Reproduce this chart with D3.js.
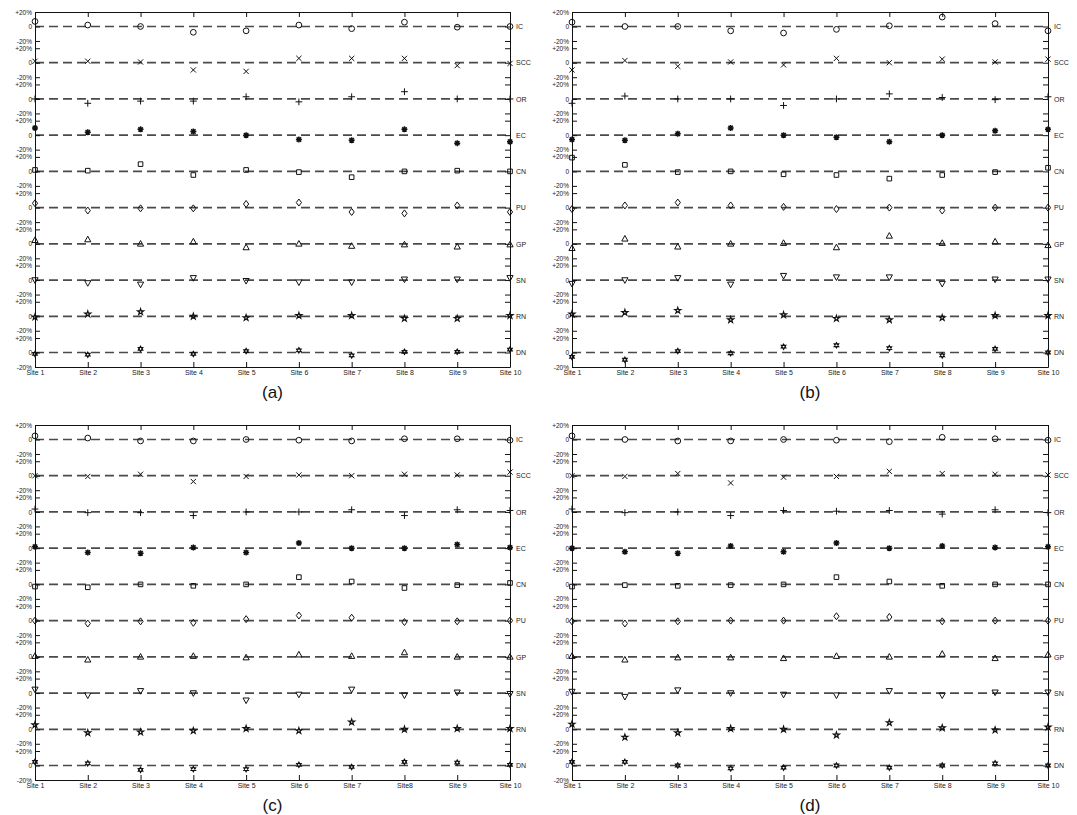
<!DOCTYPE html>
<html>
<head>
<meta charset="utf-8">
<script src="https://cdn.jsdelivr.net/npm/d3@7"></script>
<style>
  body { margin: 0; background: #fff; }
  svg { font-family: "Liberation Sans", Arial, sans-serif; }
</style>
</head>
<body>
<div id="chart"></div>
<script>
// Categories
const sites = ["Site 1", "Site 2", "Site 3", "Site 4", "Site 5", "Site 6", "Site 7", "Site 8", "Site 9", "Site 10"];
const sitesC = ["Site 1", "Site 2", "Site 3", "Site 4", "Site 5", "Site 6", "Site 7", "Site8", "Site 9", "Site 10"];
const rowNames = ["IC", "SCC", "OR", "EC", "CN", "PU", "GP", "SN", "RN", "DN"];
const markerTypes = ["circle", "x", "plus", "asterisk", "square", "diamond", "triUp", "triDown", "pentagram", "hexagram"];
const yTickLabels = ["+20%", "0", "-20%"];
const yTickValues = [20, 0, -20];
const rowStep = 50; // each row is offset by 50% from the previous

// Deviation in % per row (IC..DN), per site (1..10)
const panelA = [
  [7, 2, 0, -8, -6, 2, -3, 6, -1, 0],
  [2, 2, 1, -10, -12, 6, 6, 6, -4, -1],
  [0, -6, -3, -3, 3, -4, 3, 10, 0, 0],
  [10, 4, 8, 5, 0, -6, -7, 8, -11, -9],
  [2, 1, 10, -5, 2, -1, -8, 0, 1, 0],
  [6, -4, -1, -1, 5, 7, -6, -8, 3, -6],
  [5, 6, 0, 3, -5, 0, -3, -1, -4, -1],
  [0, -4, -6, 3, -1, -3, -3, 1, 1, 3],
  [-1, 3, 6, 0, -2, 1, 1, -3, -3, 1],
  [-2, -3, 5, -2, 2, 3, -4, 1, 1, 4]
];
const panelB = [
  [6, 0, 0, -6, -9, -4, 1, 13, 4, -6],
  [-10, 3, -5, 1, -3, 6, 0, 5, 1, 5],
  [-6, 4, 0, 0, -9, 0, 7, 2, -1, 3],
  [-6, -7, 2, 10, 0, -3, -9, 0, 6, 8],
  [19, 9, -1, 0, -4, -5, -10, -5, -1, 5],
  [-2, 3, 7, 3, 1, -2, 0, -4, 0, 0],
  [-6, 7, -4, 0, 1, -5, 11, 1, 3, -2],
  [-5, 0, 3, -6, 6, 4, 4, -5, 1, 1],
  [3, 5, 8, -5, 2, -3, -5, -2, 1, 1],
  [-6, -10, 2, -1, 8, 10, 6, -4, 5, 0]
];
const panelC = [
  [5, 2, -2, -2, 0, -1, -2, 1, 1, -1],
  [0, -1, 2, -8, -1, 1, 0, 2, 1, 5],
  [4, -1, -1, -5, 0, 0, 3, -5, 3, 2],
  [2, -6, -7, 1, -6, 7, 0, 0, 5, 1],
  [-3, -4, 0, -2, 0, 10, 4, -5, -1, 2],
  [0, -4, -1, -3, 2, 7, 4, -2, -1, 0],
  [1, -4, 0, 1, -1, 3, 1, 6, 0, 0],
  [5, -3, 3, 0, -10, -2, 5, -3, 1, -1],
  [6, -5, -4, -2, 1, -2, 10, 0, 1, 1],
  [5, 3, -6, -5, -5, 1, -2, 5, 4, 1]
];
const panelD = [
  [5, 0, -2, -2, 0, -1, -3, 3, 1, -1],
  [0, -1, 3, -10, -2, -1, 6, 3, 2, 1],
  [4, -1, 0, -5, 2, 1, 2, -3, 3, -1],
  [0, -5, -7, 3, -5, 7, 0, 3, 1, 2],
  [-3, -1, -2, -1, 0, 10, 4, -2, 0, 0],
  [-1, -4, -1, 0, 0, 6, 5, -1, 0, 0],
  [1, -4, -1, -1, -2, 1, 0, 4, -2, 3],
  [2, -5, 4, 0, -2, -3, 3, -3, 1, 1],
  [7, -11, -5, 1, 0, -8, 9, 2, -1, 3],
  [5, 5, 0, -4, -3, 0, -3, 0, 3, 0]
];

const W = 1077, H = 815;
const panels = [
  { label: "(a)", data: panelA, sites: sites, x0: 35, x1: 510, y0: 12, y1: 367 },
  { label: "(b)", data: panelB, sites: sites, x0: 572, x1: 1048, y0: 12, y1: 367 },
  { label: "(c)", data: panelC, sites: sitesC, x0: 35, x1: 510, y0: 425, y1: 780 },
  { label: "(d)", data: panelD, sites: sites, x0: 572, x1: 1048, y0: 425, y1: 780 }
];

const svg = d3.select("#chart")
  .append("svg")
  .attr("width", W)
  .attr("height", H);

// Marker shapes, MATLAB style
function markerPath(type) {
  switch (type) {
    case "circle": return d3.symbol(d3.symbolCircle, 26)();
    case "x": return "M-2.6,-2.6L2.6,2.6M-2.6,2.6L2.6,-2.6";
    case "plus": return "M-3.4,0H3.4M0,-3.4V3.4";
    case "asterisk": return "M-3,0H3M0,-3V3M-2.2,-2.2L2.2,2.2M-2.2,2.2L2.2,-2.2";
    case "square": return "M-2.3,-2.3H2.3V2.3H-2.3Z";
    case "diamond": return "M0,-3.5L2.6,0L0,3.5L-2.6,0Z";
    case "triUp": return "M0,-3.3L3.1,2.3L-3.1,2.3Z";
    case "triDown": return "M0,3.3L3.1,-2.3L-3.1,-2.3Z";
    case "pentagram": return d3.symbol(d3.symbolStar, 11)();
    case "hexagram": return "M0,-2.7L2.35,1.35L-2.35,1.35ZM0,2.7L2.35,-1.35L-2.35,-1.35Z";
  }
  return "";
}
const markerWidth = { asterisk: 1.5, pentagram: 1.2, hexagram: 1.1 };

panels.forEach(p => {
  const g = svg.append("g");

  const x = d3.scalePoint()
    .domain(p.sites)
    .range([p.x0, p.x1]);

  const y = d3.scaleLinear()
    .domain([-rowStep * (rowNames.length - 1) - 20, 20])
    .range([p.y1, p.y0]);

  // Dashed zero lines
  g.selectAll(".zero")
    .data(rowNames)
    .enter()
    .append("line")
    .attr("x1", p.x0)
    .attr("x2", p.x1)
    .attr("y1", (d, i) => y(-rowStep * i))
    .attr("y2", (d, i) => y(-rowStep * i))
    .attr("stroke", "#4a4a4a")
    .attr("stroke-width", 1.7)
    .attr("stroke-dasharray", "9,5");

  // Left axis: +20% / 0 / -20% per row
  const leftVals = [], leftText = [];
  rowNames.forEach((r, i) => {
    yTickValues.forEach((v, j) => {
      leftVals.push(-rowStep * i + v);
      leftText.push(yTickLabels[j]);
    });
  });
  const leftAxis = d3.axisLeft(y)
    .tickValues(leftVals)
    .tickSizeInner(-5)
    .tickSizeOuter(0)
    .tickPadding(3)
    .tickFormat((d, i) => leftText[i]);
  g.append("g")
    .attr("transform", `translate(${p.x0},0)`)
    .call(leftAxis)
    .call(a => a.selectAll("text").attr("font-size", 6.5).attr("fill", "#222"));

  // Right axis: minor ticks and row names
  const rightVals = [], rightText = [];
  rowNames.forEach((r, i) => {
    yTickValues.forEach(v => {
      rightVals.push(-rowStep * i + v);
      rightText.push(v === 0 ? r : "");
    });
  });
  const rightAxis = d3.axisRight(y)
    .tickValues(rightVals)
    .tickSizeInner(-5)
    .tickSizeOuter(0)
    .tickPadding(6)
    .tickFormat((d, i) => rightText[i]);
  g.append("g")
    .attr("transform", `translate(${p.x1},0)`)
    .call(rightAxis)
    .call(a => a.selectAll("text").attr("font-size", 7).attr("fill", "#222"));

  // Top axis ticks
  g.append("g")
    .attr("transform", `translate(0,${p.y0})`)
    .call(d3.axisTop(x).tickSizeInner(-5).tickSizeOuter(0).tickFormat(""));

  // Bottom axis with site labels
  g.append("g")
    .attr("transform", `translate(0,${p.y1})`)
    .call(d3.axisBottom(x).tickSizeInner(-5).tickSizeOuter(0).tickPadding(3))
    .call(a => a.selectAll("text").attr("font-size", 7).attr("fill", "#222"));

  g.selectAll(".domain").attr("stroke", "#111");
  g.selectAll(".tick line").attr("stroke", "#111");

  // Markers
  p.data.forEach((row, i) => {
    g.selectAll(null)
      .data(row)
      .enter()
      .append("path")
      .attr("d", markerPath(markerTypes[i]))
      .attr("transform", (d, k) => `translate(${x(p.sites[k])},${y(-rowStep * i + d)})`)
      .attr("fill", "none")
      .attr("stroke", "#111")
      .attr("stroke-width", markerWidth[markerTypes[i]] || 1);
  });

  // Panel label
  g.append("text")
    .attr("x", (p.x0 + p.x1) / 2)
    .attr("y", p.y1 + 31)
    .attr("text-anchor", "middle")
    .attr("font-size", 17)
    .attr("fill", "#111")
    .text(p.label);
});
</script>
</body>
</html>
